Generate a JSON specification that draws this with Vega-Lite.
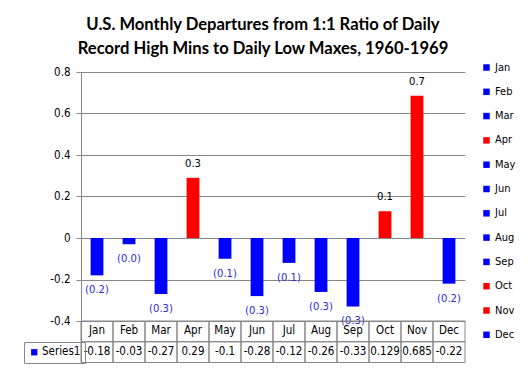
{
  "$schema": "https://vega.github.io/schema/vega-lite/v6.json",
  "width": 384,
  "height": 290.5,
  "autosize": {"type": "none"},
  "padding": {"left": 81, "top": 72, "right": 63, "bottom": 7.5},
  "background": "white",
  "config": {"view": {"stroke": null}, "font": "DejaVu Sans Condensed"},
  "title": {
    "text": ["U.S. Monthly Departures from 1:1 Ratio of Daily", "Record High Mins to Daily Low Maxes, 1960-1969"],
    "font": "Lato", "fontSize": 16.6, "fontWeight": "bold", "lineHeight": 24,
    "anchor": "middle", "offset": 4, "dx": -10, "color": "black"
  },
  "data": {"values": [
    {"month": "Jan", "value": -0.18},
    {"month": "Feb", "value": -0.03},
    {"month": "Mar", "value": -0.27},
    {"month": "Apr", "value": 0.29},
    {"month": "May", "value": -0.1},
    {"month": "Jun", "value": -0.28},
    {"month": "Jul", "value": -0.12},
    {"month": "Aug", "value": -0.26},
    {"month": "Sep", "value": -0.33},
    {"month": "Oct", "value": 0.129},
    {"month": "Nov", "value": 0.685},
    {"month": "Dec", "value": -0.22}
  ]},
  "layer": [
    {
      "mark": {"type": "bar", "width": {"band": 0.4}},
      "encoding": {
        "x": {"field": "month", "type": "nominal", "sort": null, "axis": null, "scale": {"paddingInner": 0, "paddingOuter": 0}},
        "y": {"field": "value", "type": "quantitative",
          "scale": {"domain": [-0.6, 0.8], "nice": false, "zero": false},
          "axis": {
            "values": [-0.4, -0.2, 0, 0.2, 0.4, 0.6, 0.8], "title": null, "grid": true,
            "gridColor": "#878787", "domainColor": "#878787", "tickColor": "#878787",
            "tickSize": 5, "labelPadding": 6, "labelFont": "DejaVu Sans Condensed", "labelFontSize": 11.5,
            "labelColor": "black",
            "labelExpr": "datum.value == 0 ? '0' : (datum.value < 0 ? '-' : '') + format(abs(datum.value), '.1f')"
          }
        },
        "color": {"field": "month", "type": "nominal", "sort": null,
          "scale": {
            "domain": ["Jan", "Feb", "Mar", "Apr", "May", "Jun", "Jul", "Aug", "Sep", "Oct", "Nov", "Dec"],
            "range": ["#0000ff", "#0000ff", "#0000ff", "#ff0000", "#0000ff", "#0000ff", "#0000ff", "#0000ff", "#0000ff", "#ff0000", "#ff0000", "#0000ff"]
          },
          "legend": {
            "title": null, "orient": "none", "legendX": 400, "legendY": -10,
            "symbolType": "square", "symbolSize": 42, "symbolStrokeWidth": 0,
            "labelFont": "DejaVu Sans Condensed", "labelFontSize": 11, "labelColor": "black",
            "rowPadding": 12.3, "labelOffset": 3, "padding": 0
          }
        }
      }
    },
    {
      "transform": [
        {"filter": "datum.value < 0"},
        {"calculate": "'(' + format(abs(datum.value), '.1f') + ')'", "as": "label"}
      ],
      "mark": {"type": "text", "dy": 15, "fontSize": 11.2, "color": "#2b2bdd"},
      "encoding": {
        "x": {"field": "month", "type": "nominal", "sort": null},
        "y": {"field": "value", "type": "quantitative"},
        "text": {"field": "label", "type": "nominal"}
      }
    },
    {
      "transform": [{"filter": "datum.value >= 0"}],
      "mark": {"type": "text", "dy": -14, "fontSize": 11.2, "color": "black"},
      "encoding": {
        "x": {"field": "month", "type": "nominal", "sort": null},
        "y": {"field": "value", "type": "quantitative"},
        "text": {"field": "value", "type": "quantitative", "format": ".1f"}
      }
    },
    {
      "mark": {"type": "rect", "fill": "transparent", "stroke": "#878787", "strokeWidth": 1},
      "encoding": {
        "x": {"field": "month", "type": "nominal", "sort": null},
        "y": {"datum": -0.4, "type": "quantitative"},
        "y2": {"datum": -0.5}
      }
    },
    {
      "mark": {"type": "rect", "fill": "transparent", "stroke": "#878787", "strokeWidth": 1},
      "encoding": {
        "x": {"field": "month", "type": "nominal", "sort": null},
        "y": {"datum": -0.5, "type": "quantitative"},
        "y2": {"datum": -0.6}
      }
    },
    {
      "mark": {"type": "text", "fontSize": 11.5, "color": "black"},
      "encoding": {
        "x": {"field": "month", "type": "nominal", "sort": null},
        "y": {"datum": -0.45, "type": "quantitative"},
        "text": {"field": "month", "type": "nominal"}
      }
    },
    {
      "mark": {"type": "text", "fontSize": 11.5, "color": "black"},
      "encoding": {
        "x": {"field": "month", "type": "nominal", "sort": null},
        "y": {"datum": -0.55, "type": "quantitative"},
        "text": {"field": "value", "type": "nominal"}
      }
    },
    {
      "mark": {"type": "point", "filled": true, "opacity": 0, "color": "#0000ff"},
      "encoding": {
        "x": {"field": "month", "type": "nominal", "sort": null},
        "y": {"datum": 0, "type": "quantitative"},
        "shape": {"datum": "Series1", "type": "nominal",
          "scale": {"range": ["square"]},
          "legend": {
            "title": null, "orient": "none", "legendX": -57, "legendY": 270,
            "strokeColor": "#878787", "padding": 4.5,
            "symbolOpacity": 1, "symbolFillColor": "#0000ff", "symbolStrokeWidth": 0, "symbolSize": 40,
            "labelFont": "DejaVu Sans Condensed", "labelFontSize": 11.5, "labelColor": "black", "labelOffset": 2
          }
        }
      }
    }
  ]
}
